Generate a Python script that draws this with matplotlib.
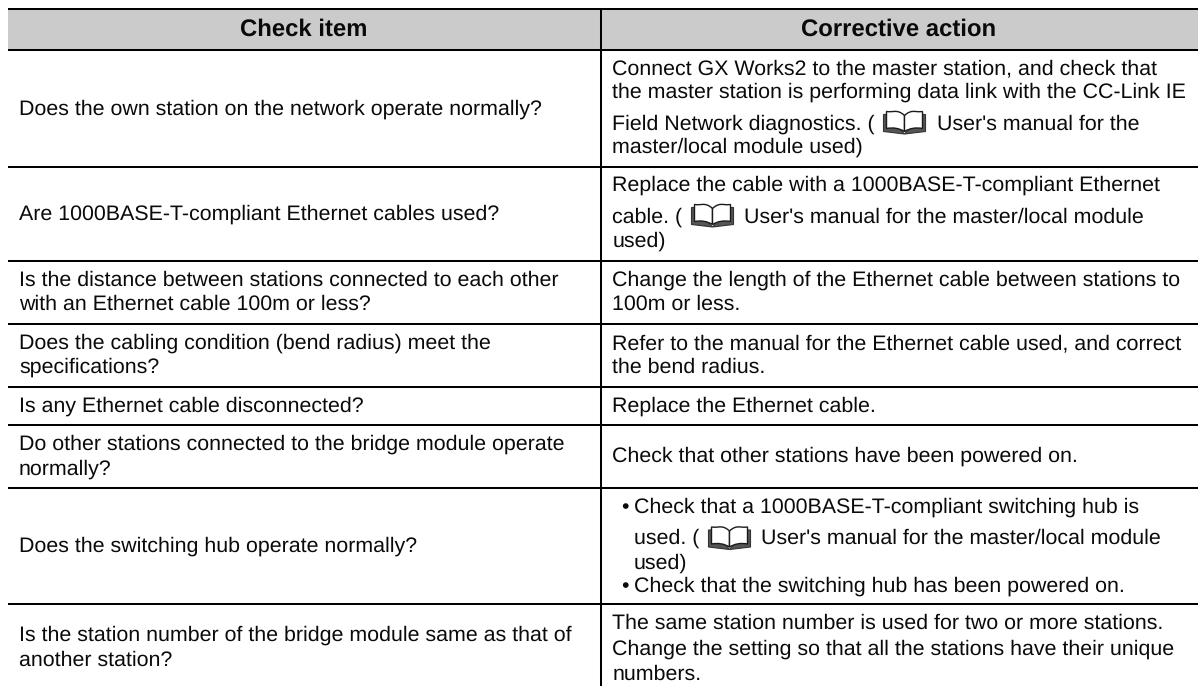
#!/usr/bin/env python3
"""Troubleshooting table: check items and corrective actions."""
import matplotlib
matplotlib.use("Agg")
import matplotlib.pyplot as plt
from matplotlib.path import Path
from matplotlib.patches import PathPatch, Rectangle

plt.rcParams["font.family"] = ["Liberation Sans", "DejaVu Sans"]
plt.rcParams["text.hinting"] = "no_hinting"
plt.rcParams["text.hinting_factor"] = 8

W, H = 1198, 686
BODY = 15.36
HEAD = 17.2
INK = "#0a0a0a"
DROP = 7.0  # baseline below line middle

headers = ["Check item", "Corrective action"]

# (y middle of line, text)
check_lines = [
    (108, "Does the own station on the network operate normally?"),
    (213, "Are 1000BASE-T-compliant Ethernet cables used?"),
    (279, "Is the distance between stations connected to each other"),
    (303, "with an Ethernet cable 100m or less?"),
    (342, "Does the cabling condition (bend radius) meet the"),
    (366, "specifications?"),
    (405, "Is any Ethernet cable disconnected?"),
    (443, "Do other stations connected to the bridge module operate"),
    (468, "normally?"),
    (545, "Does the switching hub operate normally?"),
    (634, "Is the station number of the bridge module same as that of"),
    (659, "another station?"),
]

action_lines = [
    (67, "Connect GX Works2 to the master station, and check that"),
    (91, "the master station is performing data link with the CC-Link IE"),
    (123, "Field Network diagnostics. ("),
    (146, "master/local module used)"),
    (184, "Replace the cable with a 1000BASE-T-compliant Ethernet"),
    (216, "cable. ("),
    (240, "used)"),
    (279, "Change the length of the Ethernet cable between stations to"),
    (303, "100m or less."),
    (342, "Refer to the manual for the Ethernet cable used, and correct"),
    (366, "the bend radius."),
    (405, "Replace the Ethernet cable."),
    (455, "Check that other stations have been powered on."),
    (622, "The same station number is used for two or more stations."),
    (648, "Change the setting so that all the stations have their unique"),
    (673, "numbers."),
]

# line after a manual icon: (x, y, text)
after_icon = [
    (937, 123, "User's manual for the"),
    (744, 216, "User's manual for the master/local module"),
    (761, 537, "User's manual for the master/local module"),
]
icons = [(883, 122.5), (691, 215.5), (708, 538)]

bullet_lines = [
    (506, "Check that a 1000BASE-T-compliant switching hub is", True),
    (537, "used. (", False),
    (562, "used)", False),
    (585, "Check that the switching hub has been powered on.", True),
]

row_lines = [167, 261, 324, 387, 425, 488, 604]


def book(ax, x, y):
    mid = x + 21.5
    M, L, C, Z = Path.MOVETO, Path.LINETO, Path.CURVE3, Path.CLOSEPOLY
    for s in (-1, 1):
        # dark cover behind the page
        cover = [(mid, y + 11.5), (mid + s * 21, y + 9), (mid + s * 21, y - 8),
                 (mid + s * 17, y - 8), (mid, y + 11.5)]
        ax.add_patch(PathPatch(Path(cover, [M, L, L, L, Z]), fc="#555555",
                               ec="#333333", lw=0.8, zorder=3))
        page = [(mid, y - 7), (mid + s * 5, y - 12), (mid + s * 11, y - 11),
                (mid + s * 15, y - 10.5), (mid + s * 18, y - 11), (mid + s * 18, y + 6),
                (mid + s * 8, y + 4), (mid, y + 9), (mid, y - 7)]
        codes = [M, C, C, C, C, L, C, C, L]
        ax.add_patch(PathPatch(Path(page, codes), fc="white", ec="#1a1a1a", lw=1.0, zorder=4))


def main():
    fig = plt.figure(figsize=(W / 100, H / 100), dpi=100)
    ax = fig.add_axes([0, 0, 1, 1])
    ax.set_xlim(0, W)
    ax.set_ylim(H, 0)
    ax.axis("off")

    ax.add_patch(Rectangle((8, 9), W - 8, 41, fc="#cbcbcb", ec="none", zorder=0))
    ax.text(304, 36, headers[0], ha="center", va="baseline", fontsize=HEAD,
            fontweight="bold", color=INK)
    ax.text(899, 36, headers[1], ha="center", va="baseline", fontsize=HEAD,
            fontweight="bold", color=INK)

    for y in [9, 50] + row_lines:
        ax.plot([8, W], [y, y], color="black", lw=1.45, solid_capstyle="butt")
    ax.plot([601, 601], [9, 686], color="black", lw=1.45, solid_capstyle="butt")

    for y, s in check_lines:
        ax.text(19, y + DROP, s, fontsize=BODY, color=INK, va="baseline")
    for y, s in action_lines:
        ax.text(612.5, y + DROP, s, fontsize=BODY, color=INK, va="baseline")
    for x, y, s in after_icon:
        ax.text(x, y + DROP, s, fontsize=BODY, color=INK, va="baseline")
    for y, s, bullet in bullet_lines:
        if bullet:
            ax.text(621, y + DROP, "\u2022", fontsize=BODY, color=INK, va="baseline")
        ax.text(634, y + DROP, s, fontsize=BODY, color=INK, va="baseline")
    for x, y in icons:
        book(ax, x, y)

    fig.savefig("out.png", dpi=100)
    plt.close(fig)


if __name__ == "__main__":
    main()
